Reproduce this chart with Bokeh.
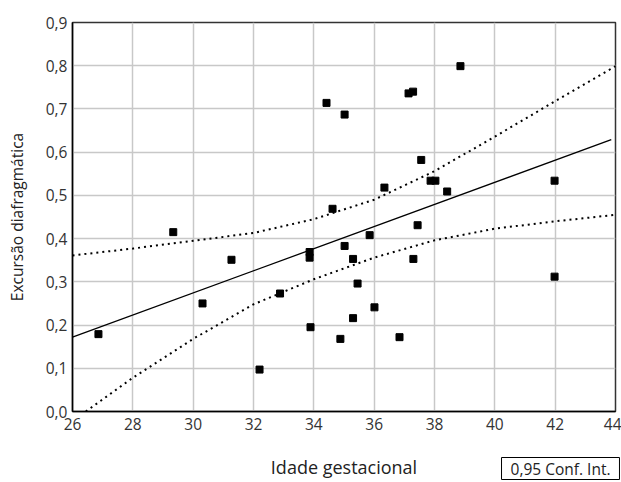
from bokeh.plotting import figure
from bokeh.models import FixedTicker, Label, Range1d
from bokeh.embed import file_html
from bokeh.resources import INLINE

# Data
age = [26.86, 29.34, 31.27, 30.31, 32.20, 32.88, 33.86, 33.86, 33.89, 34.42,
       35.02, 34.62, 35.02, 35.30, 35.45, 35.30, 34.88, 35.85, 36.01, 36.34,
       36.84, 37.14, 37.29, 37.30, 37.44, 37.56, 37.87, 38.03, 38.42, 38.86,
       41.98, 41.98]
excursion = [0.179, 0.415, 0.351, 0.250, 0.097, 0.273, 0.369, 0.356, 0.195, 0.714,
             0.687, 0.469, 0.383, 0.353, 0.296, 0.216, 0.168, 0.408, 0.241, 0.518,
             0.172, 0.736, 0.740, 0.353, 0.431, 0.582, 0.534, 0.534, 0.509, 0.799,
             0.534, 0.312]

fit_age = [26.0, 43.86]
fit_exc = [0.172, 0.629]

ci_upper_age = [26, 28, 30, 32, 34, 36, 38, 40, 42, 44]
ci_upper = [0.361, 0.377, 0.395, 0.413, 0.445, 0.490, 0.556, 0.636, 0.718, 0.799]
ci_lower_age = [26.44, 28, 30, 32, 34, 36, 38, 40, 42, 44]
ci_lower = [0.0, 0.078, 0.168, 0.248, 0.306, 0.356, 0.396, 0.423, 0.440, 0.455]

x_ticks = [26, 28, 30, 32, 34, 36, 38, 40, 42, 44]
y_ticks = [0.0, 0.1, 0.2, 0.3, 0.4, 0.5, 0.6, 0.7, 0.8, 0.9]
y_tick_labels = ["0,0", "0,1", "0,2", "0,3", "0,4", "0,5", "0,6", "0,7", "0,8", "0,9"]
legend_text = "0,95 Conf. Int."

FONT = "Open Sans"

p = figure(width=621, height=482,
           x_range=Range1d(26, 44), y_range=Range1d(0, 0.9),
           output_backend="svg", toolbar_location=None,
           min_border_left=72, min_border_right=6,
           min_border_top=18, min_border_bottom=71)

p.background_fill_color = "white"
p.border_fill_color = "white"
p.outline_line_color = "#333333"
p.outline_line_width = 1.5

p.xaxis.ticker = FixedTicker(ticks=x_ticks)
p.yaxis.ticker = FixedTicker(ticks=y_ticks)
p.yaxis.major_label_overrides = dict(zip(y_ticks, y_tick_labels))

p.xaxis.axis_label = "Idade gestacional"
p.yaxis.axis_label = "Excursão diafragmática"

for ax in (p.xaxis[0], p.yaxis[0]):
    ax.axis_line_color = "black"
    ax.axis_line_width = 1.5
    ax.major_tick_line_color = None
    ax.minor_tick_line_color = None
    ax.major_tick_out = 0
    ax.major_tick_in = 0
    ax.minor_tick_out = 0
    ax.major_label_text_font = FONT
    ax.major_label_text_font_size = "15.5px"
    ax.major_label_text_color = "#333333"
    ax.axis_label_text_font = FONT
    ax.axis_label_text_font_style = "normal"
    ax.axis_label_text_color = "#222222"

p.xaxis.axis_label_text_font_size = "18px"
p.yaxis.axis_label_text_font_size = "15.5px"
p.xaxis.major_label_standoff = 6
p.yaxis.major_label_standoff = 5
p.xaxis.axis_label_standoff = 22
p.yaxis.axis_label_standoff = 15

p.grid.grid_line_color = "#c8c8c8"
p.grid.grid_line_width = 1.5

p.line(ci_upper_age, ci_upper, color="black", line_width=2, line_dash="2 4")
p.line(ci_lower_age, ci_lower, color="black", line_width=2, line_dash="2 4")
p.line(fit_age, fit_exc, color="black", line_width=1.3)
p.scatter(age, excursion, marker="square", size=7, color="black")

# Boxed note below the x axis; held in the top side panel (not clipped to the frame)
legend_box = Label(x=488, y=-446, x_units="screen", y_units="screen",
                   text=legend_text, text_align="center", text_baseline="middle",
                   text_font=FONT, text_font_size="15.5px", text_color="#222222",
                   border_line_color="black", border_line_width=1,
                   background_fill_color="white",
                   padding=dict(left=9, right=9, top=0, bottom=0))
p.add_layout(legend_box, "above")

open("out.html", "w").write(file_html(p, INLINE))
